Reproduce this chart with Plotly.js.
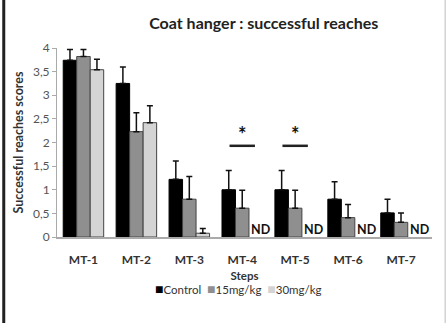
<!DOCTYPE html>
<html><head><meta charset="utf-8">
<script src="https://cdn.plot.ly/plotly-3.0.1.min.js"></script>
<style>html,body{margin:0;padding:0;background:#fff;}#chart{width:447px;height:323px;}</style>
</head><body><div id="chart"></div>
<script>
const steps = ['MT-1','MT-2','MT-3','MT-4','MT-5','MT-6','MT-7'];
const seriesNames = ['Control','15mg/kg','30mg/kg'];
const control = [3.74, 3.25, 1.22, 1.0, 1.0, 0.8, 0.51];
const controlErr = [0.23, 0.35, 0.39, 0.41, 0.41, 0.37, 0.29];
const mg15 = [3.82, 2.23, 0.8, 0.61, 0.61, 0.41, 0.31];
const mg15Err = [0.15, 0.4, 0.48, 0.38, 0.38, 0.28, 0.2];
const mg30 = [3.54, 2.42, 0.08, null, null, null, null];
const mg30Err = [0.22, 0.36, 0.1, 0, 0, 0, 0];
const ndSteps = ['MT-4','MT-5','MT-6','MT-7'];
const sigSteps = ['MT-4','MT-5'];
const sigLevel = 1.93;
const starLevel = 1.89;

const FONT = 'Lato, "Open Sans", sans-serif';
const colors = ['#000000','#8f8f8f','#d4d4d4'];
const outlines = ['#000000','#444444','#444444'];

function bar(k, y, err){
  return {type:'bar', name:seriesNames[k], x:steps, y:y,
    marker:{color:colors[k], line:{color:outlines[k], width:1}},
    error_y:{type:'data', symmetric:false, array:err, arrayminus:err.map(()=>0),
      color:'#111', thickness:1.5, width:3}};
}
const data = [bar(0, control, controlErr), bar(1, mg15, mg15Err), bar(2, mg30, mg30Err)];

const shapes = sigSteps.map(s=>{
  const i = steps.indexOf(s);
  return {type:'line', xref:'x', yref:'y', x0:i-0.24, x1:i+0.24, y0:sigLevel, y1:sigLevel,
    line:{color:'#222', width:2.5}};
});
shapes.push({type:'line', xref:'paper', yref:'paper', x0:-0.142, x1:-0.142, y0:-1, y1:2,
  line:{color:'#222', width:3}});
shapes.push({type:'line', xref:'paper', yref:'paper', x0:1.035, x1:1.035, y0:-1, y1:2,
  line:{color:'#bbb', width:1}});

const annotations = [];
sigSteps.forEach(s=>annotations.push({x:s, y:starLevel, xref:'x', yref:'y', text:'<b>*</b>',
  showarrow:false, yanchor:'bottom', font:{family:FONT, size:20, color:'#111'}}));
ndSteps.forEach(s=>annotations.push({x:s, y:0, xref:'x', yref:'y', text:'<b>ND</b>',
  showarrow:false, yanchor:'bottom', xshift:19, yshift:-2, font:{family:FONT, size:12.5, color:'#111'}}));
// legend row built from the series names and colours
const legendText = seriesNames.map((n,k)=>
  '<span style="color:'+colors[k]+';font-size:14px">■</span>'+n).join('  ');
annotations.push({xref:'paper', yref:'paper', x:0.485, y:-0.27, xanchor:'center', yanchor:'middle',
  showarrow:false, text:legendText, font:{family:FONT, size:11.5, color:'#333'}});

const layout = {
  width:447, height:323,
  margin:{l:57, r:15, t:48, b:86},
  paper_bgcolor:'#fff', plot_bgcolor:'#fff',
  separators:',.',
  barmode:'group', bargap:0.235, bargroupgap:0,
  title:{text:'<b>Coat hanger : successful reaches</b>', x:0.59, xanchor:'center', y:0.945,
    font:{family:FONT, size:16, color:'#222'}},
  xaxis:{type:'category', showline:true, linecolor:'#aaa', linewidth:1.5, ticks:'', showgrid:false,
    ticklabelstandoff:11,
    tickfont:{family:FONT, size:12, color:'#333', weight:'bold'},
    title:{text:'<b>Steps</b>', font:{family:FONT, size:11.5, color:'#333'}, standoff:6}},
  yaxis:{range:[0,4], dtick:0.5, showline:true, linecolor:'#aaa', linewidth:1, ticks:'outside',
    ticklen:4, tickcolor:'#aaa', showgrid:false, zeroline:false,
    tickfont:{family:FONT, size:12, color:'#555'},
    title:{text:'<b>Successful reaches scores</b>', font:{family:FONT, size:12.5, color:'#333'}, standoff:6}},
  showlegend:false,
  shapes:shapes, annotations:annotations
};
Plotly.newPlot('chart', data, layout, {displayModeBar:false, staticPlot:true});
</script></body></html>
